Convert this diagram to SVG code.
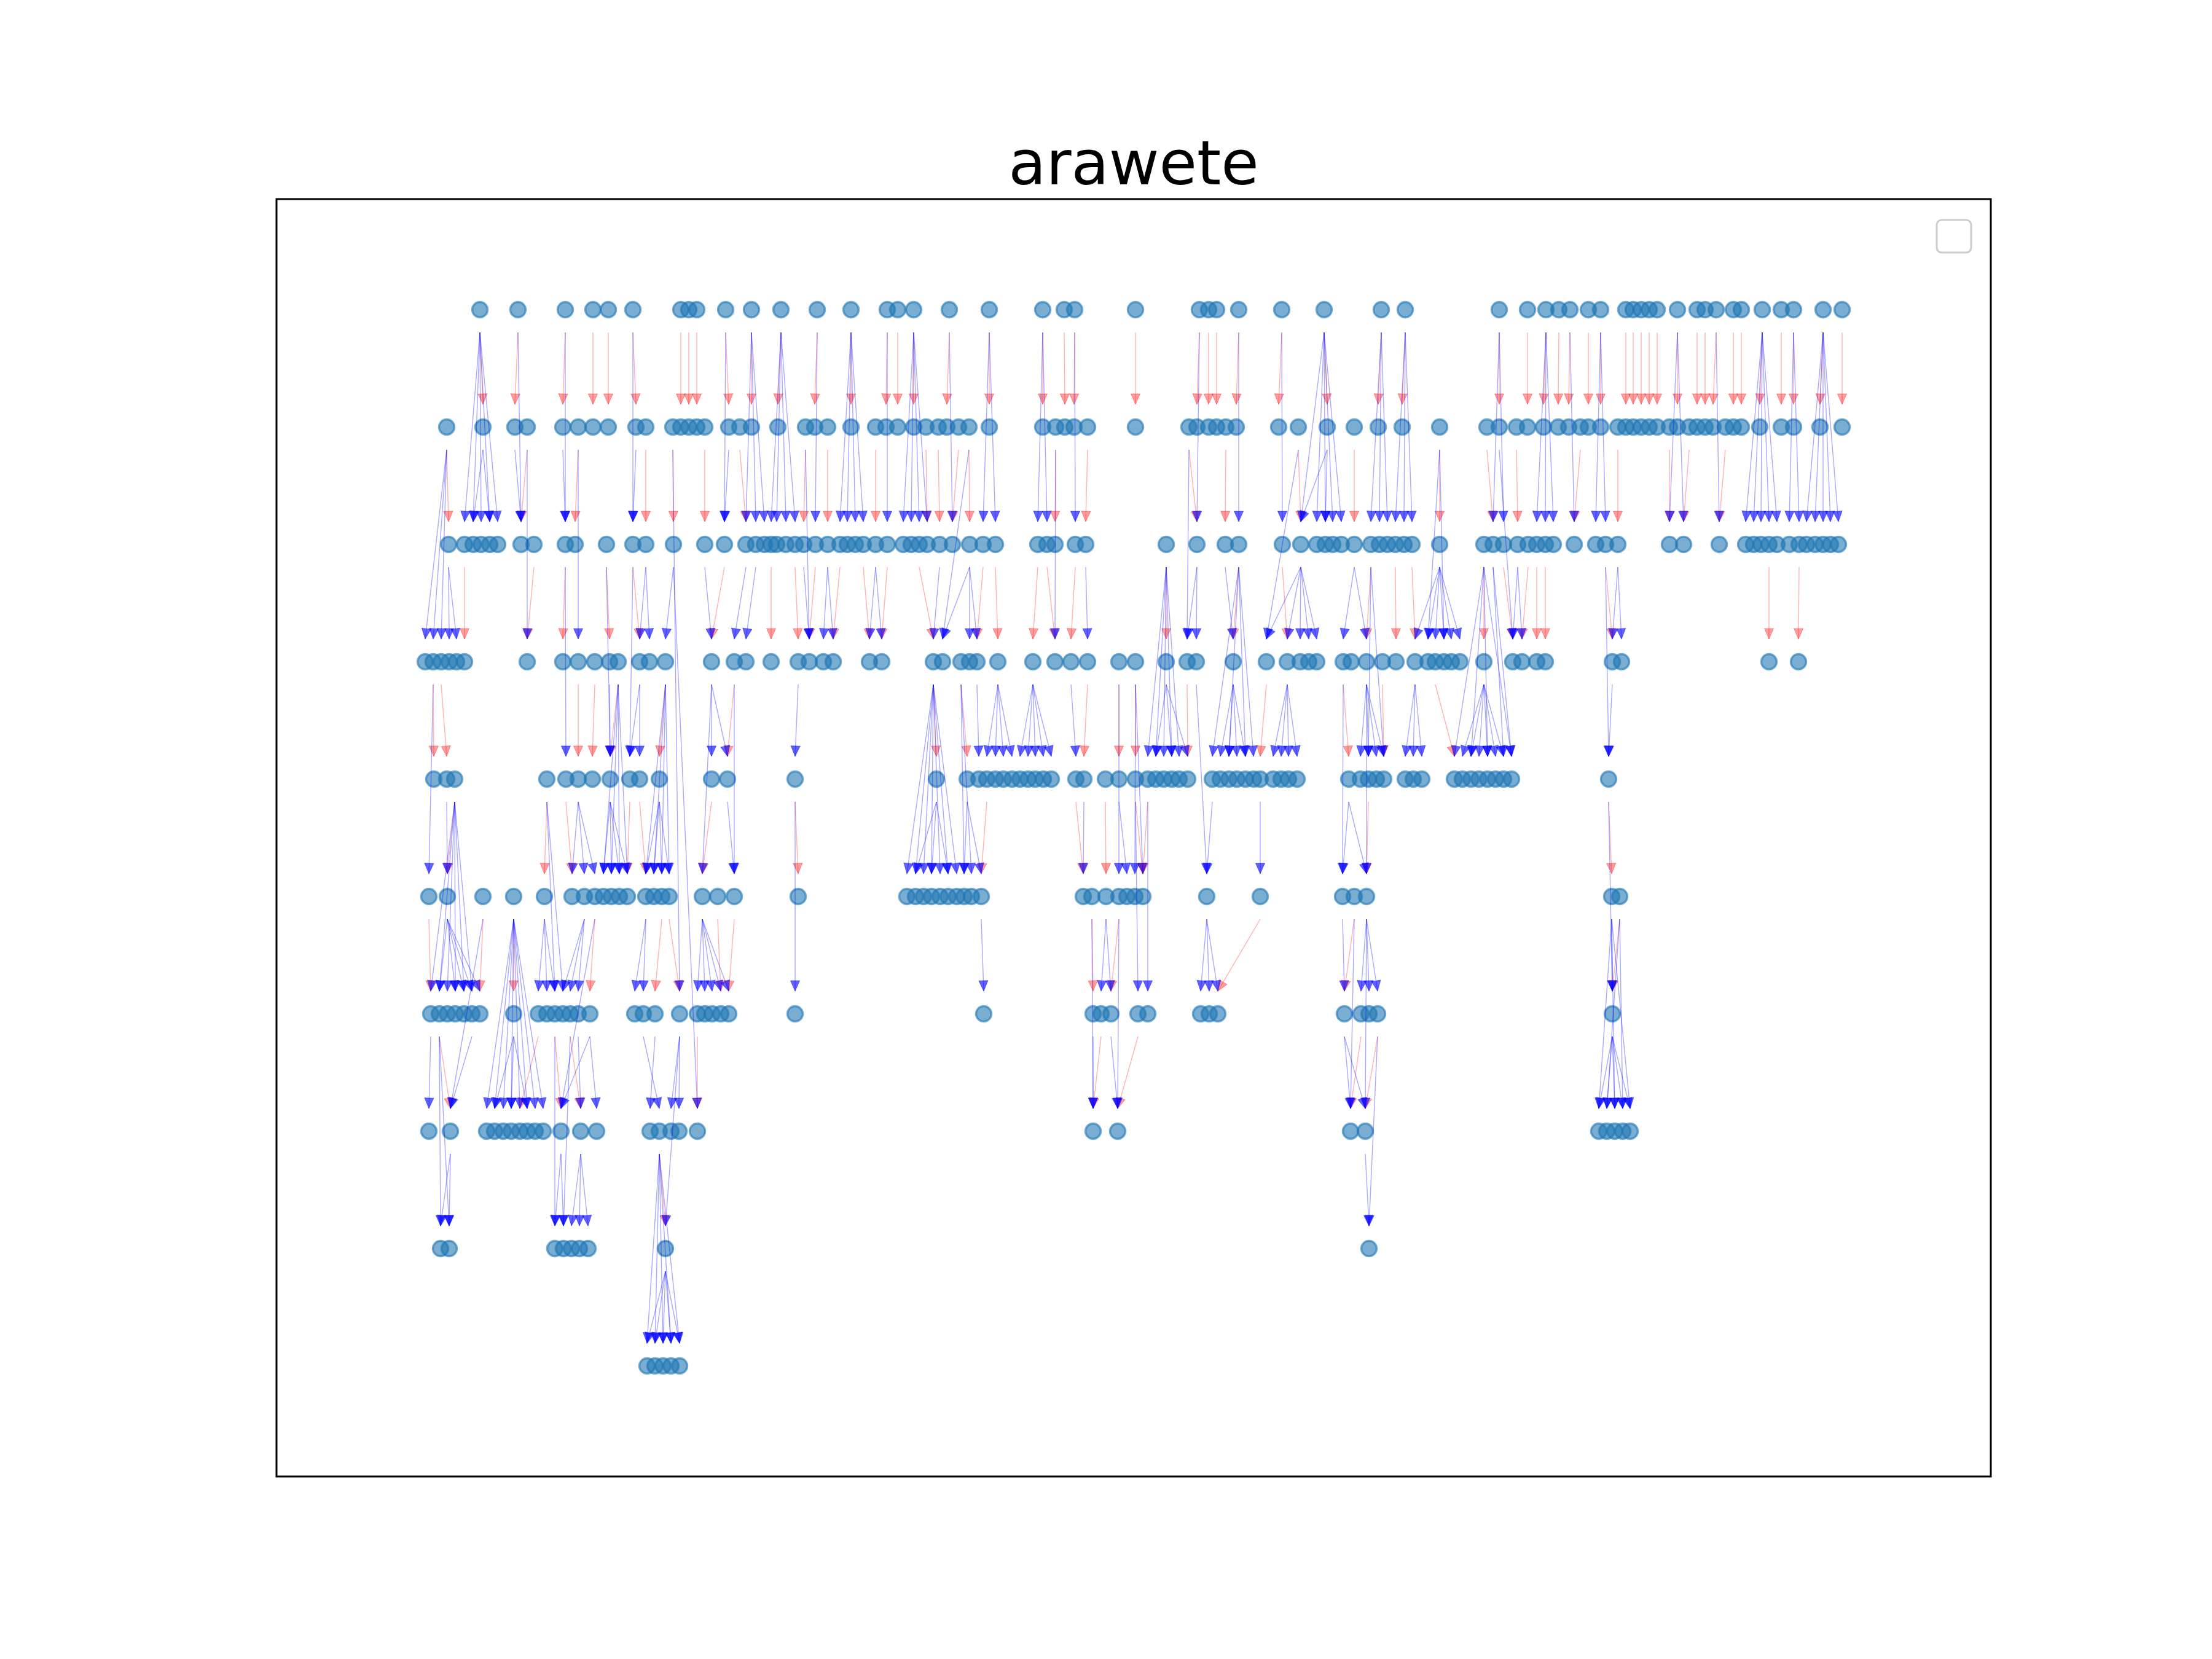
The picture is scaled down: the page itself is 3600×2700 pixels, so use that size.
<svg xmlns="http://www.w3.org/2000/svg" width="3600" height="2700" viewBox="0 0 3600 2700">
<style>
.n{fill:#1f77b4;fill-opacity:0.6;stroke:#1f77b4;stroke-opacity:0.6;stroke-width:3.5}
.b path{stroke:#0000ff;stroke-opacity:0.34;stroke-width:1.4;fill:none;marker-end:url(#hb)}
.r path{stroke:#ff0000;stroke-opacity:0.3;stroke-width:1.4;fill:none;marker-end:url(#hr)}
</style>
<defs>
<marker id="hb" markerUnits="userSpaceOnUse" markerWidth="18" markerHeight="16" refX="17" refY="7.5" orient="auto" overflow="visible"><path d="M0,0 L17,7.5 L0,15 Z" fill="#0000ff" fill-opacity="0.62" stroke="#0000ff" stroke-opacity="0.45" stroke-width="1"/></marker>
<marker id="hr" markerUnits="userSpaceOnUse" markerWidth="18" markerHeight="16" refX="17" refY="7.5" orient="auto" overflow="visible"><path d="M0,0 L17,7.5 L0,15 Z" fill="#ff0000" fill-opacity="0.38" stroke="#ff0000" stroke-opacity="0.35" stroke-width="1"/></marker>
</defs>
<rect width="3600" height="2700" fill="#fff"/>
<text x="1845" y="300" font-family="DejaVu Sans, sans-serif" font-size="100" text-anchor="middle">arawete</text>
<rect x="450" y="324" width="2790" height="2079" fill="none" stroke="#000" stroke-width="3"/>
<rect x="3152" y="358" width="56" height="53" rx="8" fill="#fff" fill-opacity="0.8" stroke="#cccccc" stroke-width="3"/>
<g id="nodes">
<g id="n1_781"><circle class="n" cx="781" cy="504" r="12.5"/></g>
<g id="n1_843"><circle class="n" cx="843" cy="504" r="12.5"/></g>
<g id="n1_920"><circle class="n" cx="920" cy="504" r="12.5"/></g>
<g id="n1_965"><circle class="n" cx="965" cy="504" r="12.5"/></g>
<g id="n1_990"><circle class="n" cx="990" cy="504" r="12.5"/></g>
<g id="n1_1030"><circle class="n" cx="1030" cy="504" r="12.5"/></g>
<g id="n1_1108"><circle class="n" cx="1108" cy="504" r="12.5"/></g>
<g id="n1_1121"><circle class="n" cx="1121" cy="504" r="12.5"/></g>
<g id="n1_1134"><circle class="n" cx="1134" cy="504" r="12.5"/></g>
<g id="n1_1181"><circle class="n" cx="1181" cy="504" r="12.5"/></g>
<g id="n1_1223"><circle class="n" cx="1223" cy="504" r="12.5"/></g>
<g id="n1_1271"><circle class="n" cx="1271" cy="504" r="12.5"/></g>
<g id="n1_1330"><circle class="n" cx="1330" cy="504" r="12.5"/></g>
<g id="n1_1385"><circle class="n" cx="1385" cy="504" r="12.5"/></g>
<g id="n1_1444"><circle class="n" cx="1444" cy="504" r="12.5"/></g>
<g id="n1_1461"><circle class="n" cx="1461" cy="504" r="12.5"/></g>
<g id="n1_1487"><circle class="n" cx="1487" cy="504" r="12.5"/></g>
<g id="n1_1545"><circle class="n" cx="1545" cy="504" r="12.5"/></g>
<g id="n1_1610"><circle class="n" cx="1610" cy="504" r="12.5"/></g>
<g id="n1_1697"><circle class="n" cx="1697" cy="504" r="12.5"/></g>
<g id="n1_1732"><circle class="n" cx="1732" cy="504" r="12.5"/></g>
<g id="n1_1749"><circle class="n" cx="1749" cy="504" r="12.5"/></g>
<g id="n1_1848"><circle class="n" cx="1848" cy="504" r="12.5"/></g>
<g id="n1_1952"><circle class="n" cx="1952" cy="504" r="12.5"/></g>
<g id="n1_1967"><circle class="n" cx="1967" cy="504" r="12.5"/></g>
<g id="n1_1980"><circle class="n" cx="1980" cy="504" r="12.5"/></g>
<g id="n1_2016"><circle class="n" cx="2016" cy="504" r="12.5"/></g>
<g id="n1_2086"><circle class="n" cx="2086" cy="504" r="12.5"/></g>
<g id="n1_2155"><circle class="n" cx="2155" cy="504" r="12.5"/></g>
<g id="n1_2248"><circle class="n" cx="2248" cy="504" r="12.5"/></g>
<g id="n1_2287"><circle class="n" cx="2287" cy="504" r="12.5"/></g>
<g id="n1_2440"><circle class="n" cx="2440" cy="504" r="12.5"/></g>
<g id="n1_2486"><circle class="n" cx="2486" cy="504" r="12.5"/></g>
<g id="n1_2516"><circle class="n" cx="2516" cy="504" r="12.5"/></g>
<g id="n1_2537"><circle class="n" cx="2537" cy="504" r="12.5"/></g>
<g id="n1_2555"><circle class="n" cx="2555" cy="504" r="12.5"/></g>
<g id="n1_2585"><circle class="n" cx="2585" cy="504" r="12.5"/></g>
<g id="n1_2605"><circle class="n" cx="2605" cy="504" r="12.5"/></g>
<g id="n1_2646"><circle class="n" cx="2646" cy="504" r="12.5"/></g>
<g id="n1_2658"><circle class="n" cx="2658" cy="504" r="12.5"/></g>
<g id="n1_2671"><circle class="n" cx="2671" cy="504" r="12.5"/></g>
<g id="n1_2684"><circle class="n" cx="2684" cy="504" r="12.5"/></g>
<g id="n1_2697"><circle class="n" cx="2697" cy="504" r="12.5"/></g>
<g id="n1_2730"><circle class="n" cx="2730" cy="504" r="12.5"/></g>
<g id="n1_2762"><circle class="n" cx="2762" cy="504" r="12.5"/></g>
<g id="n1_2775"><circle class="n" cx="2775" cy="504" r="12.5"/></g>
<g id="n1_2793"><circle class="n" cx="2793" cy="504" r="12.5"/></g>
<g id="n1_2821"><circle class="n" cx="2821" cy="504" r="12.5"/></g>
<g id="n1_2834"><circle class="n" cx="2834" cy="504" r="12.5"/></g>
<g id="n1_2868"><circle class="n" cx="2868" cy="504" r="12.5"/></g>
<g id="n1_2899"><circle class="n" cx="2899" cy="504" r="12.5"/></g>
<g id="n1_2919"><circle class="n" cx="2919" cy="504" r="12.5"/></g>
<g id="n1_2967"><circle class="n" cx="2967" cy="504" r="12.5"/></g>
<g id="n1_2998"><circle class="n" cx="2998" cy="504" r="12.5"/></g>
<g id="n2_727"><circle class="n" cx="727" cy="695" r="12.5"/></g>
<g id="n2_786"><circle class="n" cx="786" cy="695" r="12.5"/></g>
<g id="n2_838"><circle class="n" cx="838" cy="695" r="12.5"/></g>
<g id="n2_858"><circle class="n" cx="858" cy="695" r="12.5"/></g>
<g id="n2_916"><circle class="n" cx="916" cy="695" r="12.5"/></g>
<g id="n2_941"><circle class="n" cx="941" cy="695" r="12.5"/></g>
<g id="n2_965"><circle class="n" cx="965" cy="695" r="12.5"/></g>
<g id="n2_990"><circle class="n" cx="990" cy="695" r="12.5"/></g>
<g id="n2_1035"><circle class="n" cx="1035" cy="695" r="12.5"/></g>
<g id="n2_1051"><circle class="n" cx="1051" cy="695" r="12.5"/></g>
<g id="n2_1095"><circle class="n" cx="1095" cy="695" r="12.5"/></g>
<g id="n2_1108"><circle class="n" cx="1108" cy="695" r="12.5"/></g>
<g id="n2_1121"><circle class="n" cx="1121" cy="695" r="12.5"/></g>
<g id="n2_1134"><circle class="n" cx="1134" cy="695" r="12.5"/></g>
<g id="n2_1147"><circle class="n" cx="1147" cy="695" r="12.5"/></g>
<g id="n2_1186"><circle class="n" cx="1186" cy="695" r="12.5"/></g>
<g id="n2_1204"><circle class="n" cx="1204" cy="695" r="12.5"/></g>
<g id="n2_1223"><circle class="n" cx="1223" cy="695" r="12.5"/></g>
<g id="n2_1266"><circle class="n" cx="1266" cy="695" r="12.5"/></g>
<g id="n2_1311"><circle class="n" cx="1311" cy="695" r="12.5"/></g>
<g id="n2_1326"><circle class="n" cx="1326" cy="695" r="12.5"/></g>
<g id="n2_1347"><circle class="n" cx="1347" cy="695" r="12.5"/></g>
<g id="n2_1385"><circle class="n" cx="1385" cy="695" r="12.5"/></g>
<g id="n2_1425"><circle class="n" cx="1425" cy="695" r="12.5"/></g>
<g id="n2_1442"><circle class="n" cx="1442" cy="695" r="12.5"/></g>
<g id="n2_1461"><circle class="n" cx="1461" cy="695" r="12.5"/></g>
<g id="n2_1487"><circle class="n" cx="1487" cy="695" r="12.5"/></g>
<g id="n2_1507"><circle class="n" cx="1507" cy="695" r="12.5"/></g>
<g id="n2_1527"><circle class="n" cx="1527" cy="695" r="12.5"/></g>
<g id="n2_1541"><circle class="n" cx="1541" cy="695" r="12.5"/></g>
<g id="n2_1560"><circle class="n" cx="1560" cy="695" r="12.5"/></g>
<g id="n2_1577"><circle class="n" cx="1577" cy="695" r="12.5"/></g>
<g id="n2_1610"><circle class="n" cx="1610" cy="695" r="12.5"/></g>
<g id="n2_1697"><circle class="n" cx="1697" cy="695" r="12.5"/></g>
<g id="n2_1718"><circle class="n" cx="1718" cy="695" r="12.5"/></g>
<g id="n2_1733"><circle class="n" cx="1733" cy="695" r="12.5"/></g>
<g id="n2_1748"><circle class="n" cx="1748" cy="695" r="12.5"/></g>
<g id="n2_1770"><circle class="n" cx="1770" cy="695" r="12.5"/></g>
<g id="n2_1848"><circle class="n" cx="1848" cy="695" r="12.5"/></g>
<g id="n2_1935"><circle class="n" cx="1935" cy="695" r="12.5"/></g>
<g id="n2_1948"><circle class="n" cx="1948" cy="695" r="12.5"/></g>
<g id="n2_1967"><circle class="n" cx="1967" cy="695" r="12.5"/></g>
<g id="n2_1980"><circle class="n" cx="1980" cy="695" r="12.5"/></g>
<g id="n2_1995"><circle class="n" cx="1995" cy="695" r="12.5"/></g>
<g id="n2_2012"><circle class="n" cx="2012" cy="695" r="12.5"/></g>
<g id="n2_2081"><circle class="n" cx="2081" cy="695" r="12.5"/></g>
<g id="n2_2113"><circle class="n" cx="2113" cy="695" r="12.5"/></g>
<g id="n2_2160"><circle class="n" cx="2160" cy="695" r="12.5"/></g>
<g id="n2_2204"><circle class="n" cx="2204" cy="695" r="12.5"/></g>
<g id="n2_2243"><circle class="n" cx="2243" cy="695" r="12.5"/></g>
<g id="n2_2282"><circle class="n" cx="2282" cy="695" r="12.5"/></g>
<g id="n2_2343"><circle class="n" cx="2343" cy="695" r="12.5"/></g>
<g id="n2_2420"><circle class="n" cx="2420" cy="695" r="12.5"/></g>
<g id="n2_2440"><circle class="n" cx="2440" cy="695" r="12.5"/></g>
<g id="n2_2468"><circle class="n" cx="2468" cy="695" r="12.5"/></g>
<g id="n2_2486"><circle class="n" cx="2486" cy="695" r="12.5"/></g>
<g id="n2_2512"><circle class="n" cx="2512" cy="695" r="12.5"/></g>
<g id="n2_2536"><circle class="n" cx="2536" cy="695" r="12.5"/></g>
<g id="n2_2553"><circle class="n" cx="2553" cy="695" r="12.5"/></g>
<g id="n2_2572"><circle class="n" cx="2572" cy="695" r="12.5"/></g>
<g id="n2_2585"><circle class="n" cx="2585" cy="695" r="12.5"/></g>
<g id="n2_2605"><circle class="n" cx="2605" cy="695" r="12.5"/></g>
<g id="n2_2633"><circle class="n" cx="2633" cy="695" r="12.5"/></g>
<g id="n2_2646"><circle class="n" cx="2646" cy="695" r="12.5"/></g>
<g id="n2_2658"><circle class="n" cx="2658" cy="695" r="12.5"/></g>
<g id="n2_2671"><circle class="n" cx="2671" cy="695" r="12.5"/></g>
<g id="n2_2684"><circle class="n" cx="2684" cy="695" r="12.5"/></g>
<g id="n2_2697"><circle class="n" cx="2697" cy="695" r="12.5"/></g>
<g id="n2_2717"><circle class="n" cx="2717" cy="695" r="12.5"/></g>
<g id="n2_2730"><circle class="n" cx="2730" cy="695" r="12.5"/></g>
<g id="n2_2749"><circle class="n" cx="2749" cy="695" r="12.5"/></g>
<g id="n2_2762"><circle class="n" cx="2762" cy="695" r="12.5"/></g>
<g id="n2_2775"><circle class="n" cx="2775" cy="695" r="12.5"/></g>
<g id="n2_2788"><circle class="n" cx="2788" cy="695" r="12.5"/></g>
<g id="n2_2808"><circle class="n" cx="2808" cy="695" r="12.5"/></g>
<g id="n2_2821"><circle class="n" cx="2821" cy="695" r="12.5"/></g>
<g id="n2_2834"><circle class="n" cx="2834" cy="695" r="12.5"/></g>
<g id="n2_2864"><circle class="n" cx="2864" cy="695" r="12.5"/></g>
<g id="n2_2899"><circle class="n" cx="2899" cy="695" r="12.5"/></g>
<g id="n2_2919"><circle class="n" cx="2919" cy="695" r="12.5"/></g>
<g id="n2_2962"><circle class="n" cx="2962" cy="695" r="12.5"/></g>
<g id="n2_2998"><circle class="n" cx="2998" cy="695" r="12.5"/></g>
<g id="n3_730"><circle class="n" cx="730" cy="886" r="12.5"/></g>
<g id="n3_756"><circle class="n" cx="756" cy="886" r="12.5"/></g>
<g id="n3_770"><circle class="n" cx="770" cy="886" r="12.5"/></g>
<g id="n3_783"><circle class="n" cx="783" cy="886" r="12.5"/></g>
<g id="n3_797"><circle class="n" cx="797" cy="886" r="12.5"/></g>
<g id="n3_810"><circle class="n" cx="810" cy="886" r="12.5"/></g>
<g id="n3_848"><circle class="n" cx="848" cy="886" r="12.5"/></g>
<g id="n3_869"><circle class="n" cx="869" cy="886" r="12.5"/></g>
<g id="n3_920"><circle class="n" cx="920" cy="886" r="12.5"/></g>
<g id="n3_936"><circle class="n" cx="936" cy="886" r="12.5"/></g>
<g id="n3_987"><circle class="n" cx="987" cy="886" r="12.5"/></g>
<g id="n3_1030"><circle class="n" cx="1030" cy="886" r="12.5"/></g>
<g id="n3_1051"><circle class="n" cx="1051" cy="886" r="12.5"/></g>
<g id="n3_1096"><circle class="n" cx="1096" cy="886" r="12.5"/></g>
<g id="n3_1147"><circle class="n" cx="1147" cy="886" r="12.5"/></g>
<g id="n3_1179"><circle class="n" cx="1179" cy="886" r="12.5"/></g>
<g id="n3_1214"><circle class="n" cx="1214" cy="886" r="12.5"/></g>
<g id="n3_1230"><circle class="n" cx="1230" cy="886" r="12.5"/></g>
<g id="n3_1244"><circle class="n" cx="1244" cy="886" r="12.5"/></g>
<g id="n3_1255"><circle class="n" cx="1255" cy="886" r="12.5"/></g>
<g id="n3_1264"><circle class="n" cx="1264" cy="886" r="12.5"/></g>
<g id="n3_1279"><circle class="n" cx="1279" cy="886" r="12.5"/></g>
<g id="n3_1294"><circle class="n" cx="1294" cy="886" r="12.5"/></g>
<g id="n3_1308"><circle class="n" cx="1308" cy="886" r="12.5"/></g>
<g id="n3_1327"><circle class="n" cx="1327" cy="886" r="12.5"/></g>
<g id="n3_1347"><circle class="n" cx="1347" cy="886" r="12.5"/></g>
<g id="n3_1367"><circle class="n" cx="1367" cy="886" r="12.5"/></g>
<g id="n3_1379"><circle class="n" cx="1379" cy="886" r="12.5"/></g>
<g id="n3_1392"><circle class="n" cx="1392" cy="886" r="12.5"/></g>
<g id="n3_1405"><circle class="n" cx="1405" cy="886" r="12.5"/></g>
<g id="n3_1425"><circle class="n" cx="1425" cy="886" r="12.5"/></g>
<g id="n3_1444"><circle class="n" cx="1444" cy="886" r="12.5"/></g>
<g id="n3_1470"><circle class="n" cx="1470" cy="886" r="12.5"/></g>
<g id="n3_1483"><circle class="n" cx="1483" cy="886" r="12.5"/></g>
<g id="n3_1496"><circle class="n" cx="1496" cy="886" r="12.5"/></g>
<g id="n3_1509"><circle class="n" cx="1509" cy="886" r="12.5"/></g>
<g id="n3_1529"><circle class="n" cx="1529" cy="886" r="12.5"/></g>
<g id="n3_1550"><circle class="n" cx="1550" cy="886" r="12.5"/></g>
<g id="n3_1578"><circle class="n" cx="1578" cy="886" r="12.5"/></g>
<g id="n3_1600"><circle class="n" cx="1600" cy="886" r="12.5"/></g>
<g id="n3_1620"><circle class="n" cx="1620" cy="886" r="12.5"/></g>
<g id="n3_1689"><circle class="n" cx="1689" cy="886" r="12.5"/></g>
<g id="n3_1704"><circle class="n" cx="1704" cy="886" r="12.5"/></g>
<g id="n3_1717"><circle class="n" cx="1717" cy="886" r="12.5"/></g>
<g id="n3_1750"><circle class="n" cx="1750" cy="886" r="12.5"/></g>
<g id="n3_1767"><circle class="n" cx="1767" cy="886" r="12.5"/></g>
<g id="n3_1898"><circle class="n" cx="1898" cy="886" r="12.5"/></g>
<g id="n3_1948"><circle class="n" cx="1948" cy="886" r="12.5"/></g>
<g id="n3_1994"><circle class="n" cx="1994" cy="886" r="12.5"/></g>
<g id="n3_2016"><circle class="n" cx="2016" cy="886" r="12.5"/></g>
<g id="n3_2087"><circle class="n" cx="2087" cy="886" r="12.5"/></g>
<g id="n3_2117"><circle class="n" cx="2117" cy="886" r="12.5"/></g>
<g id="n3_2143"><circle class="n" cx="2143" cy="886" r="12.5"/></g>
<g id="n3_2157"><circle class="n" cx="2157" cy="886" r="12.5"/></g>
<g id="n3_2169"><circle class="n" cx="2169" cy="886" r="12.5"/></g>
<g id="n3_2183"><circle class="n" cx="2183" cy="886" r="12.5"/></g>
<g id="n3_2204"><circle class="n" cx="2204" cy="886" r="12.5"/></g>
<g id="n3_2231"><circle class="n" cx="2231" cy="886" r="12.5"/></g>
<g id="n3_2245"><circle class="n" cx="2245" cy="886" r="12.5"/></g>
<g id="n3_2258"><circle class="n" cx="2258" cy="886" r="12.5"/></g>
<g id="n3_2271"><circle class="n" cx="2271" cy="886" r="12.5"/></g>
<g id="n3_2285"><circle class="n" cx="2285" cy="886" r="12.5"/></g>
<g id="n3_2298"><circle class="n" cx="2298" cy="886" r="12.5"/></g>
<g id="n3_2343"><circle class="n" cx="2343" cy="886" r="12.5"/></g>
<g id="n3_2415"><circle class="n" cx="2415" cy="886" r="12.5"/></g>
<g id="n3_2430"><circle class="n" cx="2430" cy="886" r="12.5"/></g>
<g id="n3_2447"><circle class="n" cx="2447" cy="886" r="12.5"/></g>
<g id="n3_2470"><circle class="n" cx="2470" cy="886" r="12.5"/></g>
<g id="n3_2487"><circle class="n" cx="2487" cy="886" r="12.5"/></g>
<g id="n3_2501"><circle class="n" cx="2501" cy="886" r="12.5"/></g>
<g id="n3_2515"><circle class="n" cx="2515" cy="886" r="12.5"/></g>
<g id="n3_2528"><circle class="n" cx="2528" cy="886" r="12.5"/></g>
<g id="n3_2562"><circle class="n" cx="2562" cy="886" r="12.5"/></g>
<g id="n3_2597"><circle class="n" cx="2597" cy="886" r="12.5"/></g>
<g id="n3_2613"><circle class="n" cx="2613" cy="886" r="12.5"/></g>
<g id="n3_2633"><circle class="n" cx="2633" cy="886" r="12.5"/></g>
<g id="n3_2717"><circle class="n" cx="2717" cy="886" r="12.5"/></g>
<g id="n3_2740"><circle class="n" cx="2740" cy="886" r="12.5"/></g>
<g id="n3_2798"><circle class="n" cx="2798" cy="886" r="12.5"/></g>
<g id="n3_2841"><circle class="n" cx="2841" cy="886" r="12.5"/></g>
<g id="n3_2854"><circle class="n" cx="2854" cy="886" r="12.5"/></g>
<g id="n3_2866"><circle class="n" cx="2866" cy="886" r="12.5"/></g>
<g id="n3_2879"><circle class="n" cx="2879" cy="886" r="12.5"/></g>
<g id="n3_2892"><circle class="n" cx="2892" cy="886" r="12.5"/></g>
<g id="n3_2912"><circle class="n" cx="2912" cy="886" r="12.5"/></g>
<g id="n3_2928"><circle class="n" cx="2928" cy="886" r="12.5"/></g>
<g id="n3_2940"><circle class="n" cx="2940" cy="886" r="12.5"/></g>
<g id="n3_2954"><circle class="n" cx="2954" cy="886" r="12.5"/></g>
<g id="n3_2967"><circle class="n" cx="2967" cy="886" r="12.5"/></g>
<g id="n3_2979"><circle class="n" cx="2979" cy="886" r="12.5"/></g>
<g id="n3_2992"><circle class="n" cx="2992" cy="886" r="12.5"/></g>
<g id="n4_692"><circle class="n" cx="692" cy="1077" r="12.5"/></g>
<g id="n4_705"><circle class="n" cx="705" cy="1077" r="12.5"/></g>
<g id="n4_718"><circle class="n" cx="718" cy="1077" r="12.5"/></g>
<g id="n4_731"><circle class="n" cx="731" cy="1077" r="12.5"/></g>
<g id="n4_743"><circle class="n" cx="743" cy="1077" r="12.5"/></g>
<g id="n4_756"><circle class="n" cx="756" cy="1077" r="12.5"/></g>
<g id="n4_858"><circle class="n" cx="858" cy="1077" r="12.5"/></g>
<g id="n4_916"><circle class="n" cx="916" cy="1077" r="12.5"/></g>
<g id="n4_941"><circle class="n" cx="941" cy="1077" r="12.5"/></g>
<g id="n4_968"><circle class="n" cx="968" cy="1077" r="12.5"/></g>
<g id="n4_992"><circle class="n" cx="992" cy="1077" r="12.5"/></g>
<g id="n4_1006"><circle class="n" cx="1006" cy="1077" r="12.5"/></g>
<g id="n4_1041"><circle class="n" cx="1041" cy="1077" r="12.5"/></g>
<g id="n4_1057"><circle class="n" cx="1057" cy="1077" r="12.5"/></g>
<g id="n4_1083"><circle class="n" cx="1083" cy="1077" r="12.5"/></g>
<g id="n4_1158"><circle class="n" cx="1158" cy="1077" r="12.5"/></g>
<g id="n4_1195"><circle class="n" cx="1195" cy="1077" r="12.5"/></g>
<g id="n4_1214"><circle class="n" cx="1214" cy="1077" r="12.5"/></g>
<g id="n4_1255"><circle class="n" cx="1255" cy="1077" r="12.5"/></g>
<g id="n4_1299"><circle class="n" cx="1299" cy="1077" r="12.5"/></g>
<g id="n4_1317"><circle class="n" cx="1317" cy="1077" r="12.5"/></g>
<g id="n4_1340"><circle class="n" cx="1340" cy="1077" r="12.5"/></g>
<g id="n4_1356"><circle class="n" cx="1356" cy="1077" r="12.5"/></g>
<g id="n4_1415"><circle class="n" cx="1415" cy="1077" r="12.5"/></g>
<g id="n4_1435"><circle class="n" cx="1435" cy="1077" r="12.5"/></g>
<g id="n4_1519"><circle class="n" cx="1519" cy="1077" r="12.5"/></g>
<g id="n4_1534"><circle class="n" cx="1534" cy="1077" r="12.5"/></g>
<g id="n4_1564"><circle class="n" cx="1564" cy="1077" r="12.5"/></g>
<g id="n4_1578"><circle class="n" cx="1578" cy="1077" r="12.5"/></g>
<g id="n4_1590"><circle class="n" cx="1590" cy="1077" r="12.5"/></g>
<g id="n4_1624"><circle class="n" cx="1624" cy="1077" r="12.5"/></g>
<g id="n4_1681"><circle class="n" cx="1681" cy="1077" r="12.5"/></g>
<g id="n4_1717"><circle class="n" cx="1717" cy="1077" r="12.5"/></g>
<g id="n4_1743"><circle class="n" cx="1743" cy="1077" r="12.5"/></g>
<g id="n4_1770"><circle class="n" cx="1770" cy="1077" r="12.5"/></g>
<g id="n4_1821"><circle class="n" cx="1821" cy="1077" r="12.5"/></g>
<g id="n4_1848"><circle class="n" cx="1848" cy="1077" r="12.5"/></g>
<g id="n4_1898"><circle class="n" cx="1898" cy="1077" r="12.5"/></g>
<g id="n4_1932"><circle class="n" cx="1932" cy="1077" r="12.5"/></g>
<g id="n4_1947"><circle class="n" cx="1947" cy="1077" r="12.5"/></g>
<g id="n4_2007"><circle class="n" cx="2007" cy="1077" r="12.5"/></g>
<g id="n4_2061"><circle class="n" cx="2061" cy="1077" r="12.5"/></g>
<g id="n4_2095"><circle class="n" cx="2095" cy="1077" r="12.5"/></g>
<g id="n4_2116"><circle class="n" cx="2116" cy="1077" r="12.5"/></g>
<g id="n4_2130"><circle class="n" cx="2130" cy="1077" r="12.5"/></g>
<g id="n4_2143"><circle class="n" cx="2143" cy="1077" r="12.5"/></g>
<g id="n4_2186"><circle class="n" cx="2186" cy="1077" r="12.5"/></g>
<g id="n4_2199"><circle class="n" cx="2199" cy="1077" r="12.5"/></g>
<g id="n4_2224"><circle class="n" cx="2224" cy="1077" r="12.5"/></g>
<g id="n4_2250"><circle class="n" cx="2250" cy="1077" r="12.5"/></g>
<g id="n4_2272"><circle class="n" cx="2272" cy="1077" r="12.5"/></g>
<g id="n4_2303"><circle class="n" cx="2303" cy="1077" r="12.5"/></g>
<g id="n4_2324"><circle class="n" cx="2324" cy="1077" r="12.5"/></g>
<g id="n4_2336"><circle class="n" cx="2336" cy="1077" r="12.5"/></g>
<g id="n4_2350"><circle class="n" cx="2350" cy="1077" r="12.5"/></g>
<g id="n4_2362"><circle class="n" cx="2362" cy="1077" r="12.5"/></g>
<g id="n4_2376"><circle class="n" cx="2376" cy="1077" r="12.5"/></g>
<g id="n4_2415"><circle class="n" cx="2415" cy="1077" r="12.5"/></g>
<g id="n4_2462"><circle class="n" cx="2462" cy="1077" r="12.5"/></g>
<g id="n4_2477"><circle class="n" cx="2477" cy="1077" r="12.5"/></g>
<g id="n4_2501"><circle class="n" cx="2501" cy="1077" r="12.5"/></g>
<g id="n4_2515"><circle class="n" cx="2515" cy="1077" r="12.5"/></g>
<g id="n4_2624"><circle class="n" cx="2624" cy="1077" r="12.5"/></g>
<g id="n4_2639"><circle class="n" cx="2639" cy="1077" r="12.5"/></g>
<g id="n4_2879"><circle class="n" cx="2879" cy="1077" r="12.5"/></g>
<g id="n4_2927"><circle class="n" cx="2927" cy="1077" r="12.5"/></g>
<g id="n5_706"><circle class="n" cx="706" cy="1268" r="12.5"/></g>
<g id="n5_727"><circle class="n" cx="727" cy="1268" r="12.5"/></g>
<g id="n5_740"><circle class="n" cx="740" cy="1268" r="12.5"/></g>
<g id="n5_890"><circle class="n" cx="890" cy="1268" r="12.5"/></g>
<g id="n5_921"><circle class="n" cx="921" cy="1268" r="12.5"/></g>
<g id="n5_941"><circle class="n" cx="941" cy="1268" r="12.5"/></g>
<g id="n5_964"><circle class="n" cx="964" cy="1268" r="12.5"/></g>
<g id="n5_993"><circle class="n" cx="993" cy="1268" r="12.5"/></g>
<g id="n5_1025"><circle class="n" cx="1025" cy="1268" r="12.5"/></g>
<g id="n5_1041"><circle class="n" cx="1041" cy="1268" r="12.5"/></g>
<g id="n5_1073"><circle class="n" cx="1073" cy="1268" r="12.5"/></g>
<g id="n5_1158"><circle class="n" cx="1158" cy="1268" r="12.5"/></g>
<g id="n5_1184"><circle class="n" cx="1184" cy="1268" r="12.5"/></g>
<g id="n5_1294"><circle class="n" cx="1294" cy="1268" r="12.5"/></g>
<g id="n5_1524"><circle class="n" cx="1524" cy="1268" r="12.5"/></g>
<g id="n5_1574"><circle class="n" cx="1574" cy="1268" r="12.5"/></g>
<g id="n5_1593"><circle class="n" cx="1593" cy="1268" r="12.5"/></g>
<g id="n5_1606"><circle class="n" cx="1606" cy="1268" r="12.5"/></g>
<g id="n5_1620"><circle class="n" cx="1620" cy="1268" r="12.5"/></g>
<g id="n5_1633"><circle class="n" cx="1633" cy="1268" r="12.5"/></g>
<g id="n5_1647"><circle class="n" cx="1647" cy="1268" r="12.5"/></g>
<g id="n5_1660"><circle class="n" cx="1660" cy="1268" r="12.5"/></g>
<g id="n5_1673"><circle class="n" cx="1673" cy="1268" r="12.5"/></g>
<g id="n5_1685"><circle class="n" cx="1685" cy="1268" r="12.5"/></g>
<g id="n5_1698"><circle class="n" cx="1698" cy="1268" r="12.5"/></g>
<g id="n5_1711"><circle class="n" cx="1711" cy="1268" r="12.5"/></g>
<g id="n5_1751"><circle class="n" cx="1751" cy="1268" r="12.5"/></g>
<g id="n5_1764"><circle class="n" cx="1764" cy="1268" r="12.5"/></g>
<g id="n5_1799"><circle class="n" cx="1799" cy="1268" r="12.5"/></g>
<g id="n5_1821"><circle class="n" cx="1821" cy="1268" r="12.5"/></g>
<g id="n5_1848"><circle class="n" cx="1848" cy="1268" r="12.5"/></g>
<g id="n5_1868"><circle class="n" cx="1868" cy="1268" r="12.5"/></g>
<g id="n5_1881"><circle class="n" cx="1881" cy="1268" r="12.5"/></g>
<g id="n5_1894"><circle class="n" cx="1894" cy="1268" r="12.5"/></g>
<g id="n5_1907"><circle class="n" cx="1907" cy="1268" r="12.5"/></g>
<g id="n5_1919"><circle class="n" cx="1919" cy="1268" r="12.5"/></g>
<g id="n5_1933"><circle class="n" cx="1933" cy="1268" r="12.5"/></g>
<g id="n5_1973"><circle class="n" cx="1973" cy="1268" r="12.5"/></g>
<g id="n5_1986"><circle class="n" cx="1986" cy="1268" r="12.5"/></g>
<g id="n5_2000"><circle class="n" cx="2000" cy="1268" r="12.5"/></g>
<g id="n5_2013"><circle class="n" cx="2013" cy="1268" r="12.5"/></g>
<g id="n5_2027"><circle class="n" cx="2027" cy="1268" r="12.5"/></g>
<g id="n5_2040"><circle class="n" cx="2040" cy="1268" r="12.5"/></g>
<g id="n5_2051"><circle class="n" cx="2051" cy="1268" r="12.5"/></g>
<g id="n5_2072"><circle class="n" cx="2072" cy="1268" r="12.5"/></g>
<g id="n5_2085"><circle class="n" cx="2085" cy="1268" r="12.5"/></g>
<g id="n5_2097"><circle class="n" cx="2097" cy="1268" r="12.5"/></g>
<g id="n5_2111"><circle class="n" cx="2111" cy="1268" r="12.5"/></g>
<g id="n5_2195"><circle class="n" cx="2195" cy="1268" r="12.5"/></g>
<g id="n5_2214"><circle class="n" cx="2214" cy="1268" r="12.5"/></g>
<g id="n5_2227"><circle class="n" cx="2227" cy="1268" r="12.5"/></g>
<g id="n5_2240"><circle class="n" cx="2240" cy="1268" r="12.5"/></g>
<g id="n5_2252"><circle class="n" cx="2252" cy="1268" r="12.5"/></g>
<g id="n5_2287"><circle class="n" cx="2287" cy="1268" r="12.5"/></g>
<g id="n5_2300"><circle class="n" cx="2300" cy="1268" r="12.5"/></g>
<g id="n5_2314"><circle class="n" cx="2314" cy="1268" r="12.5"/></g>
<g id="n5_2367"><circle class="n" cx="2367" cy="1268" r="12.5"/></g>
<g id="n5_2380"><circle class="n" cx="2380" cy="1268" r="12.5"/></g>
<g id="n5_2394"><circle class="n" cx="2394" cy="1268" r="12.5"/></g>
<g id="n5_2407"><circle class="n" cx="2407" cy="1268" r="12.5"/></g>
<g id="n5_2421"><circle class="n" cx="2421" cy="1268" r="12.5"/></g>
<g id="n5_2434"><circle class="n" cx="2434" cy="1268" r="12.5"/></g>
<g id="n5_2447"><circle class="n" cx="2447" cy="1268" r="12.5"/></g>
<g id="n5_2460"><circle class="n" cx="2460" cy="1268" r="12.5"/></g>
<g id="n5_2618"><circle class="n" cx="2618" cy="1268" r="12.5"/></g>
<g id="n6_698"><circle class="n" cx="698" cy="1459" r="12.5"/></g>
<g id="n6_728"><circle class="n" cx="728" cy="1459" r="12.5"/></g>
<g id="n6_786"><circle class="n" cx="786" cy="1459" r="12.5"/></g>
<g id="n6_836"><circle class="n" cx="836" cy="1459" r="12.5"/></g>
<g id="n6_886"><circle class="n" cx="886" cy="1459" r="12.5"/></g>
<g id="n6_931"><circle class="n" cx="931" cy="1459" r="12.5"/></g>
<g id="n6_951"><circle class="n" cx="951" cy="1459" r="12.5"/></g>
<g id="n6_968"><circle class="n" cx="968" cy="1459" r="12.5"/></g>
<g id="n6_982"><circle class="n" cx="982" cy="1459" r="12.5"/></g>
<g id="n6_995"><circle class="n" cx="995" cy="1459" r="12.5"/></g>
<g id="n6_1008"><circle class="n" cx="1008" cy="1459" r="12.5"/></g>
<g id="n6_1021"><circle class="n" cx="1021" cy="1459" r="12.5"/></g>
<g id="n6_1051"><circle class="n" cx="1051" cy="1459" r="12.5"/></g>
<g id="n6_1064"><circle class="n" cx="1064" cy="1459" r="12.5"/></g>
<g id="n6_1077"><circle class="n" cx="1077" cy="1459" r="12.5"/></g>
<g id="n6_1089"><circle class="n" cx="1089" cy="1459" r="12.5"/></g>
<g id="n6_1143"><circle class="n" cx="1143" cy="1459" r="12.5"/></g>
<g id="n6_1168"><circle class="n" cx="1168" cy="1459" r="12.5"/></g>
<g id="n6_1195"><circle class="n" cx="1195" cy="1459" r="12.5"/></g>
<g id="n6_1299"><circle class="n" cx="1299" cy="1459" r="12.5"/></g>
<g id="n6_1476"><circle class="n" cx="1476" cy="1459" r="12.5"/></g>
<g id="n6_1490"><circle class="n" cx="1490" cy="1459" r="12.5"/></g>
<g id="n6_1503"><circle class="n" cx="1503" cy="1459" r="12.5"/></g>
<g id="n6_1516"><circle class="n" cx="1516" cy="1459" r="12.5"/></g>
<g id="n6_1530"><circle class="n" cx="1530" cy="1459" r="12.5"/></g>
<g id="n6_1543"><circle class="n" cx="1543" cy="1459" r="12.5"/></g>
<g id="n6_1557"><circle class="n" cx="1557" cy="1459" r="12.5"/></g>
<g id="n6_1569"><circle class="n" cx="1569" cy="1459" r="12.5"/></g>
<g id="n6_1581"><circle class="n" cx="1581" cy="1459" r="12.5"/></g>
<g id="n6_1597"><circle class="n" cx="1597" cy="1459" r="12.5"/></g>
<g id="n6_1763"><circle class="n" cx="1763" cy="1459" r="12.5"/></g>
<g id="n6_1777"><circle class="n" cx="1777" cy="1459" r="12.5"/></g>
<g id="n6_1800"><circle class="n" cx="1800" cy="1459" r="12.5"/></g>
<g id="n6_1821"><circle class="n" cx="1821" cy="1459" r="12.5"/></g>
<g id="n6_1834"><circle class="n" cx="1834" cy="1459" r="12.5"/></g>
<g id="n6_1847"><circle class="n" cx="1847" cy="1459" r="12.5"/></g>
<g id="n6_1860"><circle class="n" cx="1860" cy="1459" r="12.5"/></g>
<g id="n6_1964"><circle class="n" cx="1964" cy="1459" r="12.5"/></g>
<g id="n6_2051"><circle class="n" cx="2051" cy="1459" r="12.5"/></g>
<g id="n6_2185"><circle class="n" cx="2185" cy="1459" r="12.5"/></g>
<g id="n6_2204"><circle class="n" cx="2204" cy="1459" r="12.5"/></g>
<g id="n6_2224"><circle class="n" cx="2224" cy="1459" r="12.5"/></g>
<g id="n6_2623"><circle class="n" cx="2623" cy="1459" r="12.5"/></g>
<g id="n6_2636"><circle class="n" cx="2636" cy="1459" r="12.5"/></g>
<g id="n7_701"><circle class="n" cx="701" cy="1650" r="12.5"/></g>
<g id="n7_715"><circle class="n" cx="715" cy="1650" r="12.5"/></g>
<g id="n7_728"><circle class="n" cx="728" cy="1650" r="12.5"/></g>
<g id="n7_741"><circle class="n" cx="741" cy="1650" r="12.5"/></g>
<g id="n7_755"><circle class="n" cx="755" cy="1650" r="12.5"/></g>
<g id="n7_768"><circle class="n" cx="768" cy="1650" r="12.5"/></g>
<g id="n7_781"><circle class="n" cx="781" cy="1650" r="12.5"/></g>
<g id="n7_836"><circle class="n" cx="836" cy="1650" r="12.5"/></g>
<g id="n7_876"><circle class="n" cx="876" cy="1650" r="12.5"/></g>
<g id="n7_890"><circle class="n" cx="890" cy="1650" r="12.5"/></g>
<g id="n7_903"><circle class="n" cx="903" cy="1650" r="12.5"/></g>
<g id="n7_916"><circle class="n" cx="916" cy="1650" r="12.5"/></g>
<g id="n7_928"><circle class="n" cx="928" cy="1650" r="12.5"/></g>
<g id="n7_941"><circle class="n" cx="941" cy="1650" r="12.5"/></g>
<g id="n7_960"><circle class="n" cx="960" cy="1650" r="12.5"/></g>
<g id="n7_1033"><circle class="n" cx="1033" cy="1650" r="12.5"/></g>
<g id="n7_1047"><circle class="n" cx="1047" cy="1650" r="12.5"/></g>
<g id="n7_1066"><circle class="n" cx="1066" cy="1650" r="12.5"/></g>
<g id="n7_1106"><circle class="n" cx="1106" cy="1650" r="12.5"/></g>
<g id="n7_1135"><circle class="n" cx="1135" cy="1650" r="12.5"/></g>
<g id="n7_1147"><circle class="n" cx="1147" cy="1650" r="12.5"/></g>
<g id="n7_1159"><circle class="n" cx="1159" cy="1650" r="12.5"/></g>
<g id="n7_1173"><circle class="n" cx="1173" cy="1650" r="12.5"/></g>
<g id="n7_1186"><circle class="n" cx="1186" cy="1650" r="12.5"/></g>
<g id="n7_1294"><circle class="n" cx="1294" cy="1650" r="12.5"/></g>
<g id="n7_1601"><circle class="n" cx="1601" cy="1650" r="12.5"/></g>
<g id="n7_1779"><circle class="n" cx="1779" cy="1650" r="12.5"/></g>
<g id="n7_1792"><circle class="n" cx="1792" cy="1650" r="12.5"/></g>
<g id="n7_1808"><circle class="n" cx="1808" cy="1650" r="12.5"/></g>
<g id="n7_1852"><circle class="n" cx="1852" cy="1650" r="12.5"/></g>
<g id="n7_1868"><circle class="n" cx="1868" cy="1650" r="12.5"/></g>
<g id="n7_1954"><circle class="n" cx="1954" cy="1650" r="12.5"/></g>
<g id="n7_1968"><circle class="n" cx="1968" cy="1650" r="12.5"/></g>
<g id="n7_1982"><circle class="n" cx="1982" cy="1650" r="12.5"/></g>
<g id="n7_2188"><circle class="n" cx="2188" cy="1650" r="12.5"/></g>
<g id="n7_2215"><circle class="n" cx="2215" cy="1650" r="12.5"/></g>
<g id="n7_2228"><circle class="n" cx="2228" cy="1650" r="12.5"/></g>
<g id="n7_2242"><circle class="n" cx="2242" cy="1650" r="12.5"/></g>
<g id="n7_2624"><circle class="n" cx="2624" cy="1650" r="12.5"/></g>
<g id="n8_698"><circle class="n" cx="698" cy="1841" r="12.5"/></g>
<g id="n8_733"><circle class="n" cx="733" cy="1841" r="12.5"/></g>
<g id="n8_792"><circle class="n" cx="792" cy="1841" r="12.5"/></g>
<g id="n8_805"><circle class="n" cx="805" cy="1841" r="12.5"/></g>
<g id="n8_819"><circle class="n" cx="819" cy="1841" r="12.5"/></g>
<g id="n8_832"><circle class="n" cx="832" cy="1841" r="12.5"/></g>
<g id="n8_846"><circle class="n" cx="846" cy="1841" r="12.5"/></g>
<g id="n8_858"><circle class="n" cx="858" cy="1841" r="12.5"/></g>
<g id="n8_871"><circle class="n" cx="871" cy="1841" r="12.5"/></g>
<g id="n8_884"><circle class="n" cx="884" cy="1841" r="12.5"/></g>
<g id="n8_913"><circle class="n" cx="913" cy="1841" r="12.5"/></g>
<g id="n8_945"><circle class="n" cx="945" cy="1841" r="12.5"/></g>
<g id="n8_971"><circle class="n" cx="971" cy="1841" r="12.5"/></g>
<g id="n8_1058"><circle class="n" cx="1058" cy="1841" r="12.5"/></g>
<g id="n8_1073"><circle class="n" cx="1073" cy="1841" r="12.5"/></g>
<g id="n8_1092"><circle class="n" cx="1092" cy="1841" r="12.5"/></g>
<g id="n8_1105"><circle class="n" cx="1105" cy="1841" r="12.5"/></g>
<g id="n8_1135"><circle class="n" cx="1135" cy="1841" r="12.5"/></g>
<g id="n8_1779"><circle class="n" cx="1779" cy="1841" r="12.5"/></g>
<g id="n8_1819"><circle class="n" cx="1819" cy="1841" r="12.5"/></g>
<g id="n8_2198"><circle class="n" cx="2198" cy="1841" r="12.5"/></g>
<g id="n8_2222"><circle class="n" cx="2222" cy="1841" r="12.5"/></g>
<g id="n8_2602"><circle class="n" cx="2602" cy="1841" r="12.5"/></g>
<g id="n8_2615"><circle class="n" cx="2615" cy="1841" r="12.5"/></g>
<g id="n8_2628"><circle class="n" cx="2628" cy="1841" r="12.5"/></g>
<g id="n8_2641"><circle class="n" cx="2641" cy="1841" r="12.5"/></g>
<g id="n8_2653"><circle class="n" cx="2653" cy="1841" r="12.5"/></g>
<g id="n9_717"><circle class="n" cx="717" cy="2032" r="12.5"/></g>
<g id="n9_731"><circle class="n" cx="731" cy="2032" r="12.5"/></g>
<g id="n9_903"><circle class="n" cx="903" cy="2032" r="12.5"/></g>
<g id="n9_917"><circle class="n" cx="917" cy="2032" r="12.5"/></g>
<g id="n9_930"><circle class="n" cx="930" cy="2032" r="12.5"/></g>
<g id="n9_943"><circle class="n" cx="943" cy="2032" r="12.5"/></g>
<g id="n9_957"><circle class="n" cx="957" cy="2032" r="12.5"/></g>
<g id="n9_1083"><circle class="n" cx="1083" cy="2032" r="12.5"/></g>
<g id="n9_2228"><circle class="n" cx="2228" cy="2032" r="12.5"/></g>
<g id="n10_1053"><circle class="n" cx="1053" cy="2223" r="12.5"/></g>
<g id="n10_1066"><circle class="n" cx="1066" cy="2223" r="12.5"/></g>
<g id="n10_1079"><circle class="n" cx="1079" cy="2223" r="12.5"/></g>
<g id="n10_1092"><circle class="n" cx="1092" cy="2223" r="12.5"/></g>
<g id="n10_1106"><circle class="n" cx="1106" cy="2223" r="12.5"/></g>
</g>
<g id="connectors">
<g class="r">
<path d="M781 541L786 658"/><path d="M843 541L838 658"/><path d="M920 541L916 658"/><path d="M965 541L965 658"/><path d="M990 541L990 658"/><path d="M1030 541L1035 658"/><path d="M1108 541L1108 658"/><path d="M1121 541L1121 658"/><path d="M1134 541L1134 658"/><path d="M1181 541L1186 658"/><path d="M1223 541L1223 658"/><path d="M1271 541L1266 658"/><path d="M1330 541L1326 658"/><path d="M1385 541L1385 658"/><path d="M1444 541L1442 658"/><path d="M1461 541L1461 658"/><path d="M1487 541L1487 658"/><path d="M1545 541L1541 658"/><path d="M1610 541L1610 658"/><path d="M1697 541L1697 658"/><path d="M1732 541L1733 658"/><path d="M1749 541L1748 658"/><path d="M1848 541L1848 658"/><path d="M1952 541L1948 658"/><path d="M1967 541L1967 658"/><path d="M1980 541L1980 658"/><path d="M2016 541L2012 658"/><path d="M2086 541L2081 658"/><path d="M2155 541L2160 658"/><path d="M2248 541L2243 658"/><path d="M2287 541L2282 658"/><path d="M2440 541L2440 658"/><path d="M2486 541L2486 658"/><path d="M2516 541L2512 658"/><path d="M2537 541L2536 658"/><path d="M2555 541L2553 658"/><path d="M2585 541L2585 658"/><path d="M2605 541L2605 658"/><path d="M2646 541L2646 658"/><path d="M2658 541L2658 658"/><path d="M2671 541L2671 658"/><path d="M2684 541L2684 658"/><path d="M2697 541L2697 658"/><path d="M2730 541L2730 658"/><path d="M2762 541L2762 658"/><path d="M2775 541L2775 658"/><path d="M2793 541L2788 658"/><path d="M2821 541L2821 658"/><path d="M2834 541L2834 658"/><path d="M2868 541L2864 658"/><path d="M2899 541L2899 658"/><path d="M2919 541L2919 658"/><path d="M2967 541L2962 658"/><path d="M2998 541L2998 658"/>
<path d="M727 732L730 849"/><path d="M858 732L848 849"/><path d="M941 732L936 849"/><path d="M1051 732L1051 849"/><path d="M1095 732L1096 849"/><path d="M1147 732L1147 849"/><path d="M1204 732L1214 849"/><path d="M1311 732L1308 849"/><path d="M1347 732L1347 849"/><path d="M1425 732L1425 849"/><path d="M1507 732L1509 849"/><path d="M1527 732L1529 849"/><path d="M1560 732L1550 849"/><path d="M1577 732L1578 849"/><path d="M1718 732L1717 849"/><path d="M1770 732L1767 849"/><path d="M1935 732L1948 849"/><path d="M1995 732L1994 849"/><path d="M2113 732L2117 849"/><path d="M2204 732L2204 849"/><path d="M2343 732L2343 849"/><path d="M2420 732L2430 849"/><path d="M2468 732L2470 849"/><path d="M2572 732L2562 849"/><path d="M2633 732L2633 849"/><path d="M2717 732L2717 849"/><path d="M2749 732L2740 849"/><path d="M2808 732L2798 849"/>
<path d="M756 923L756 1040"/><path d="M869 923L858 1040"/><path d="M920 923L916 1040"/><path d="M987 923L992 1040"/><path d="M1030 923L1041 1040"/><path d="M1179 923L1158 1040"/><path d="M1255 923L1255 1040"/><path d="M1294 923L1299 1040"/><path d="M1327 923L1317 1040"/><path d="M1367 923L1356 1040"/><path d="M1405 923L1415 1040"/><path d="M1444 923L1435 1040"/><path d="M1496 923L1519 1040"/><path d="M1600 923L1590 1040"/><path d="M1620 923L1624 1040"/><path d="M1689 923L1681 1040"/><path d="M1704 923L1717 1040"/><path d="M1750 923L1743 1040"/><path d="M1898 923L1898 1040"/><path d="M2016 923L2007 1040"/><path d="M2087 923L2095 1040"/><path d="M2231 923L2224 1040"/><path d="M2271 923L2272 1040"/><path d="M2298 923L2303 1040"/><path d="M2415 923L2415 1040"/><path d="M2447 923L2462 1040"/><path d="M2487 923L2477 1040"/><path d="M2501 923L2501 1040"/><path d="M2515 923L2515 1040"/><path d="M2613 923L2624 1040"/><path d="M2879 923L2879 1040"/><path d="M2928 923L2927 1040"/>
<path d="M705 1114L706 1231"/><path d="M718 1114L727 1231"/><path d="M941 1114L941 1231"/><path d="M968 1114L964 1231"/><path d="M1006 1114L993 1231"/><path d="M1083 1114L1073 1231"/><path d="M1195 1114L1184 1231"/><path d="M1519 1114L1524 1231"/><path d="M1564 1114L1574 1231"/><path d="M1770 1114L1764 1231"/><path d="M1821 1114L1821 1231"/><path d="M1848 1114L1848 1231"/><path d="M1932 1114L1933 1231"/><path d="M2061 1114L2051 1231"/><path d="M2186 1114L2195 1231"/><path d="M2250 1114L2252 1231"/><path d="M2336 1114L2367 1231"/>
<path d="M740 1305L728 1422"/><path d="M890 1305L886 1422"/><path d="M921 1305L931 1422"/><path d="M1025 1305L1021 1422"/><path d="M1041 1305L1051 1422"/><path d="M1158 1305L1143 1422"/><path d="M1294 1305L1299 1422"/><path d="M1606 1305L1597 1422"/><path d="M1751 1305L1763 1422"/><path d="M1799 1305L1800 1422"/><path d="M1848 1305L1860 1422"/><path d="M1868 1305L1860 1422"/><path d="M2227 1305L2224 1422"/><path d="M2618 1305L2623 1422"/>
<path d="M698 1496L701 1613"/><path d="M786 1496L781 1613"/><path d="M836 1496L836 1613"/><path d="M968 1496L960 1613"/><path d="M1077 1496L1066 1613"/><path d="M1089 1496L1106 1613"/><path d="M1168 1496L1173 1613"/><path d="M1195 1496L1186 1613"/><path d="M1777 1496L1779 1613"/><path d="M1821 1496L1808 1613"/><path d="M2051 1496L1982 1613"/><path d="M2204 1496L2188 1613"/><path d="M2636 1496L2624 1613"/>
<path d="M715 1687L733 1804"/><path d="M876 1687L846 1804"/><path d="M903 1687L913 1804"/><path d="M928 1687L945 1804"/><path d="M1135 1687L1135 1804"/><path d="M1792 1687L1779 1804"/><path d="M1852 1687L1819 1804"/><path d="M2215 1687L2198 1804"/><path d="M2242 1687L2222 1804"/>
<path d="M1073 1878L1083 1995"/>
</g>
<g class="b">
<path d="M781 541L756 849"/><path d="M781 541L770 849"/><path d="M781 541L783 849"/><path d="M781 541L797 849"/><path d="M781 541L810 849"/><path d="M843 541L848 849"/><path d="M920 541L920 849"/><path d="M1030 541L1030 849"/><path d="M1181 541L1179 849"/><path d="M1223 541L1214 849"/><path d="M1223 541L1230 849"/><path d="M1223 541L1244 849"/><path d="M1271 541L1255 849"/><path d="M1271 541L1264 849"/><path d="M1271 541L1279 849"/><path d="M1271 541L1294 849"/><path d="M1330 541L1327 849"/><path d="M1385 541L1367 849"/><path d="M1385 541L1379 849"/><path d="M1385 541L1392 849"/><path d="M1385 541L1405 849"/><path d="M1444 541L1444 849"/><path d="M1487 541L1470 849"/><path d="M1487 541L1483 849"/><path d="M1487 541L1496 849"/><path d="M1487 541L1509 849"/><path d="M1545 541L1550 849"/><path d="M1610 541L1600 849"/><path d="M1610 541L1620 849"/><path d="M1697 541L1689 849"/><path d="M1697 541L1704 849"/><path d="M1749 541L1750 849"/><path d="M1952 541L1948 849"/><path d="M2016 541L2016 849"/><path d="M2086 541L2087 849"/><path d="M2155 541L2117 849"/><path d="M2155 541L2143 849"/><path d="M2155 541L2157 849"/><path d="M2155 541L2169 849"/><path d="M2155 541L2183 849"/><path d="M2248 541L2231 849"/><path d="M2248 541L2245 849"/><path d="M2248 541L2258 849"/><path d="M2287 541L2271 849"/><path d="M2287 541L2285 849"/><path d="M2287 541L2298 849"/><path d="M2440 541L2430 849"/><path d="M2440 541L2447 849"/><path d="M2516 541L2501 849"/><path d="M2516 541L2515 849"/><path d="M2516 541L2528 849"/><path d="M2555 541L2562 849"/><path d="M2605 541L2597 849"/><path d="M2605 541L2613 849"/><path d="M2730 541L2717 849"/><path d="M2730 541L2740 849"/><path d="M2793 541L2798 849"/><path d="M2868 541L2841 849"/><path d="M2868 541L2854 849"/><path d="M2868 541L2866 849"/><path d="M2868 541L2879 849"/><path d="M2868 541L2892 849"/><path d="M2919 541L2912 849"/><path d="M2919 541L2928 849"/><path d="M2967 541L2940 849"/><path d="M2967 541L2954 849"/><path d="M2967 541L2967 849"/><path d="M2967 541L2979 849"/><path d="M2967 541L2992 849"/>
<path d="M786 732L770 849"/><path d="M786 732L797 849"/><path d="M838 732L848 849"/><path d="M916 732L920 849"/><path d="M1035 732L1030 849"/><path d="M1186 732L1179 849"/><path d="M2160 732L2117 849"/><path d="M2160 732L2157 849"/>
<path d="M727 732L692 1040"/><path d="M727 732L705 1040"/><path d="M727 732L718 1040"/><path d="M858 732L858 1040"/><path d="M941 732L941 1040"/><path d="M1311 732L1317 1040"/><path d="M1577 732L1534 1040"/><path d="M1718 732L1717 1040"/><path d="M1935 732L1932 1040"/><path d="M2113 732L2061 1040"/><path d="M2343 732L2324 1040"/><path d="M2343 732L2350 1040"/><path d="M2440 732L2462 1040"/>
<path d="M730 923L731 1040"/><path d="M730 923L743 1040"/><path d="M1051 923L1041 1040"/><path d="M1051 923L1057 1040"/><path d="M1096 923L1083 1040"/><path d="M1147 923L1158 1040"/><path d="M1214 923L1195 1040"/><path d="M1230 923L1214 1040"/><path d="M1308 923L1317 1040"/><path d="M1347 923L1340 1040"/><path d="M1347 923L1356 1040"/><path d="M1425 923L1415 1040"/><path d="M1425 923L1435 1040"/><path d="M1529 923L1519 1040"/><path d="M1578 923L1534 1040"/><path d="M1578 923L1578 1040"/><path d="M1578 923L1590 1040"/><path d="M1767 923L1770 1040"/><path d="M1948 923L1932 1040"/><path d="M1948 923L1947 1040"/><path d="M1994 923L2007 1040"/><path d="M2117 923L2061 1040"/><path d="M2117 923L2095 1040"/><path d="M2117 923L2116 1040"/><path d="M2117 923L2130 1040"/><path d="M2117 923L2143 1040"/><path d="M2204 923L2186 1040"/><path d="M2204 923L2224 1040"/><path d="M2343 923L2303 1040"/><path d="M2343 923L2324 1040"/><path d="M2343 923L2336 1040"/><path d="M2343 923L2350 1040"/><path d="M2343 923L2362 1040"/><path d="M2343 923L2376 1040"/><path d="M2470 923L2462 1040"/><path d="M2470 923L2477 1040"/><path d="M2633 923L2624 1040"/><path d="M2633 923L2639 1040"/>
<path d="M920 923L921 1231"/><path d="M987 923L993 1231"/><path d="M1030 923L1025 1231"/><path d="M1898 923L1868 1231"/><path d="M1898 923L1881 1231"/><path d="M1898 923L1894 1231"/><path d="M1898 923L1907 1231"/><path d="M1898 923L1919 1231"/><path d="M2016 923L1973 1231"/><path d="M2016 923L2000 1231"/><path d="M2016 923L2027 1231"/><path d="M2016 923L2040 1231"/><path d="M2231 923L2227 1231"/><path d="M2231 923L2252 1231"/><path d="M2415 923L2367 1231"/><path d="M2415 923L2394 1231"/><path d="M2415 923L2421 1231"/><path d="M2415 923L2460 1231"/><path d="M2430 923L2447 1231"/><path d="M2430 923L2460 1231"/><path d="M2613 923L2618 1231"/>
<path d="M992 1114L993 1231"/><path d="M1041 1114L1025 1231"/><path d="M1041 1114L1041 1231"/><path d="M1158 1114L1158 1231"/><path d="M1158 1114L1184 1231"/><path d="M1299 1114L1294 1231"/><path d="M1590 1114L1593 1231"/><path d="M1624 1114L1606 1231"/><path d="M1624 1114L1620 1231"/><path d="M1624 1114L1633 1231"/><path d="M1624 1114L1647 1231"/><path d="M1681 1114L1660 1231"/><path d="M1681 1114L1673 1231"/><path d="M1681 1114L1685 1231"/><path d="M1681 1114L1698 1231"/><path d="M1681 1114L1711 1231"/><path d="M1743 1114L1751 1231"/><path d="M1898 1114L1881 1231"/><path d="M1898 1114L1907 1231"/><path d="M1898 1114L1933 1231"/><path d="M2007 1114L1986 1231"/><path d="M2007 1114L2000 1231"/><path d="M2007 1114L2013 1231"/><path d="M2007 1114L2027 1231"/><path d="M2095 1114L2072 1231"/><path d="M2095 1114L2085 1231"/><path d="M2095 1114L2097 1231"/><path d="M2095 1114L2111 1231"/><path d="M2224 1114L2214 1231"/><path d="M2224 1114L2227 1231"/><path d="M2224 1114L2240 1231"/><path d="M2224 1114L2252 1231"/><path d="M2303 1114L2287 1231"/><path d="M2303 1114L2300 1231"/><path d="M2303 1114L2314 1231"/><path d="M2415 1114L2380 1231"/><path d="M2415 1114L2394 1231"/><path d="M2415 1114L2407 1231"/><path d="M2415 1114L2421 1231"/><path d="M2415 1114L2434 1231"/><path d="M2415 1114L2447 1231"/><path d="M2624 1114L2618 1231"/>
<path d="M705 1114L698 1422"/><path d="M1006 1114L982 1422"/><path d="M1006 1114L995 1422"/><path d="M1006 1114L1008 1422"/><path d="M1006 1114L1021 1422"/><path d="M1083 1114L1051 1422"/><path d="M1083 1114L1064 1422"/><path d="M1083 1114L1077 1422"/><path d="M1083 1114L1089 1422"/><path d="M1158 1114L1143 1422"/><path d="M1195 1114L1195 1422"/><path d="M1519 1114L1476 1422"/><path d="M1519 1114L1490 1422"/><path d="M1519 1114L1503 1422"/><path d="M1519 1114L1516 1422"/><path d="M1519 1114L1530 1422"/><path d="M1519 1114L1543 1422"/><path d="M1519 1114L1557 1422"/><path d="M1564 1114L1569 1422"/><path d="M1564 1114L1581 1422"/><path d="M1821 1114L1821 1422"/><path d="M1848 1114L1847 1422"/><path d="M1848 1114L1860 1422"/><path d="M1947 1114L1964 1422"/><path d="M2186 1114L2185 1422"/><path d="M2224 1114L2224 1422"/>
<path d="M727 1305L728 1422"/><path d="M941 1305L931 1422"/><path d="M941 1305L951 1422"/><path d="M941 1305L968 1422"/><path d="M993 1305L982 1422"/><path d="M993 1305L995 1422"/><path d="M993 1305L1008 1422"/><path d="M993 1305L1021 1422"/><path d="M1073 1305L1051 1422"/><path d="M1073 1305L1064 1422"/><path d="M1073 1305L1077 1422"/><path d="M1073 1305L1089 1422"/><path d="M1184 1305L1195 1422"/><path d="M1524 1305L1490 1422"/><path d="M1524 1305L1516 1422"/><path d="M1524 1305L1543 1422"/><path d="M1574 1305L1569 1422"/><path d="M1574 1305L1597 1422"/><path d="M1764 1305L1763 1422"/><path d="M1821 1305L1834 1422"/><path d="M1973 1305L1964 1422"/><path d="M2051 1305L2051 1422"/><path d="M2195 1305L2185 1422"/><path d="M2195 1305L2224 1422"/>
<path d="M740 1305L701 1613"/><path d="M740 1305L715 1613"/><path d="M740 1305L728 1613"/><path d="M740 1305L741 1613"/><path d="M740 1305L755 1613"/><path d="M740 1305L768 1613"/><path d="M890 1305L903 1613"/><path d="M890 1305L916 1613"/><path d="M1294 1305L1294 1613"/><path d="M1848 1305L1852 1613"/><path d="M1868 1305L1868 1613"/><path d="M2618 1305L2624 1613"/><path d="M1095 732L1106 1613"/>
<path d="M728 1496L715 1613"/><path d="M728 1496L741 1613"/><path d="M728 1496L755 1613"/><path d="M728 1496L768 1613"/><path d="M728 1496L781 1613"/><path d="M886 1496L876 1613"/><path d="M886 1496L890 1613"/><path d="M886 1496L903 1613"/><path d="M951 1496L916 1613"/><path d="M951 1496L928 1613"/><path d="M951 1496L941 1613"/><path d="M1051 1496L1033 1613"/><path d="M1051 1496L1047 1613"/><path d="M1143 1496L1135 1613"/><path d="M1143 1496L1147 1613"/><path d="M1143 1496L1159 1613"/><path d="M1143 1496L1173 1613"/><path d="M1143 1496L1186 1613"/><path d="M1597 1496L1601 1613"/><path d="M1800 1496L1792 1613"/><path d="M1800 1496L1808 1613"/><path d="M1964 1496L1954 1613"/><path d="M1964 1496L1968 1613"/><path d="M1964 1496L1982 1613"/><path d="M2185 1496L2188 1613"/><path d="M2224 1496L2215 1613"/><path d="M2224 1496L2228 1613"/><path d="M2224 1496L2242 1613"/><path d="M2623 1496L2624 1613"/>
<path d="M1096 923L1135 1804"/><path d="M786 1496L733 1804"/><path d="M836 1496L792 1804"/><path d="M836 1496L805 1804"/><path d="M836 1496L819 1804"/><path d="M836 1496L832 1804"/><path d="M836 1496L846 1804"/><path d="M836 1496L858 1804"/><path d="M836 1496L871 1804"/><path d="M836 1496L884 1804"/><path d="M968 1496L913 1804"/><path d="M1777 1496L1779 1804"/><path d="M1821 1496L1819 1804"/><path d="M2204 1496L2198 1804"/><path d="M2224 1496L2222 1804"/><path d="M2623 1496L2602 1804"/><path d="M2623 1496L2628 1804"/><path d="M2623 1496L2653 1804"/><path d="M2636 1496L2615 1804"/><path d="M2636 1496L2641 1804"/>
<path d="M701 1687L698 1804"/><path d="M768 1687L733 1804"/><path d="M836 1687L805 1804"/><path d="M836 1687L832 1804"/><path d="M836 1687L858 1804"/><path d="M960 1687L913 1804"/><path d="M941 1687L945 1804"/><path d="M960 1687L971 1804"/><path d="M1066 1687L1058 1804"/><path d="M1047 1687L1073 1804"/><path d="M1106 1687L1092 1804"/><path d="M1106 1687L1105 1804"/><path d="M1779 1687L1779 1804"/><path d="M1808 1687L1819 1804"/><path d="M2188 1687L2198 1804"/><path d="M2188 1687L2222 1804"/><path d="M2624 1687L2602 1804"/><path d="M2624 1687L2615 1804"/><path d="M2624 1687L2628 1804"/><path d="M2624 1687L2641 1804"/><path d="M2624 1687L2653 1804"/>
<path d="M715 1687L717 1995"/><path d="M715 1687L731 1995"/><path d="M903 1687L903 1995"/><path d="M928 1687L917 1995"/><path d="M1106 1687L1083 1995"/><path d="M2242 1687L2228 1995"/>
<path d="M733 1878L717 1995"/><path d="M733 1878L731 1995"/><path d="M913 1878L903 1995"/><path d="M913 1878L917 1995"/><path d="M945 1878L930 1995"/><path d="M945 1878L943 1995"/><path d="M945 1878L957 1995"/><path d="M2222 1878L2228 1995"/>
<path d="M1073 1878L1053 2186"/><path d="M1073 1878L1066 2186"/><path d="M1073 1878L1079 2186"/><path d="M1073 1878L1092 2186"/><path d="M1073 1878L1106 2186"/>
<path d="M1083 2069L1053 2186"/><path d="M1083 2069L1066 2186"/><path d="M1083 2069L1079 2186"/><path d="M1083 2069L1092 2186"/><path d="M1083 2069L1106 2186"/>
</g>
</g>
</svg>
